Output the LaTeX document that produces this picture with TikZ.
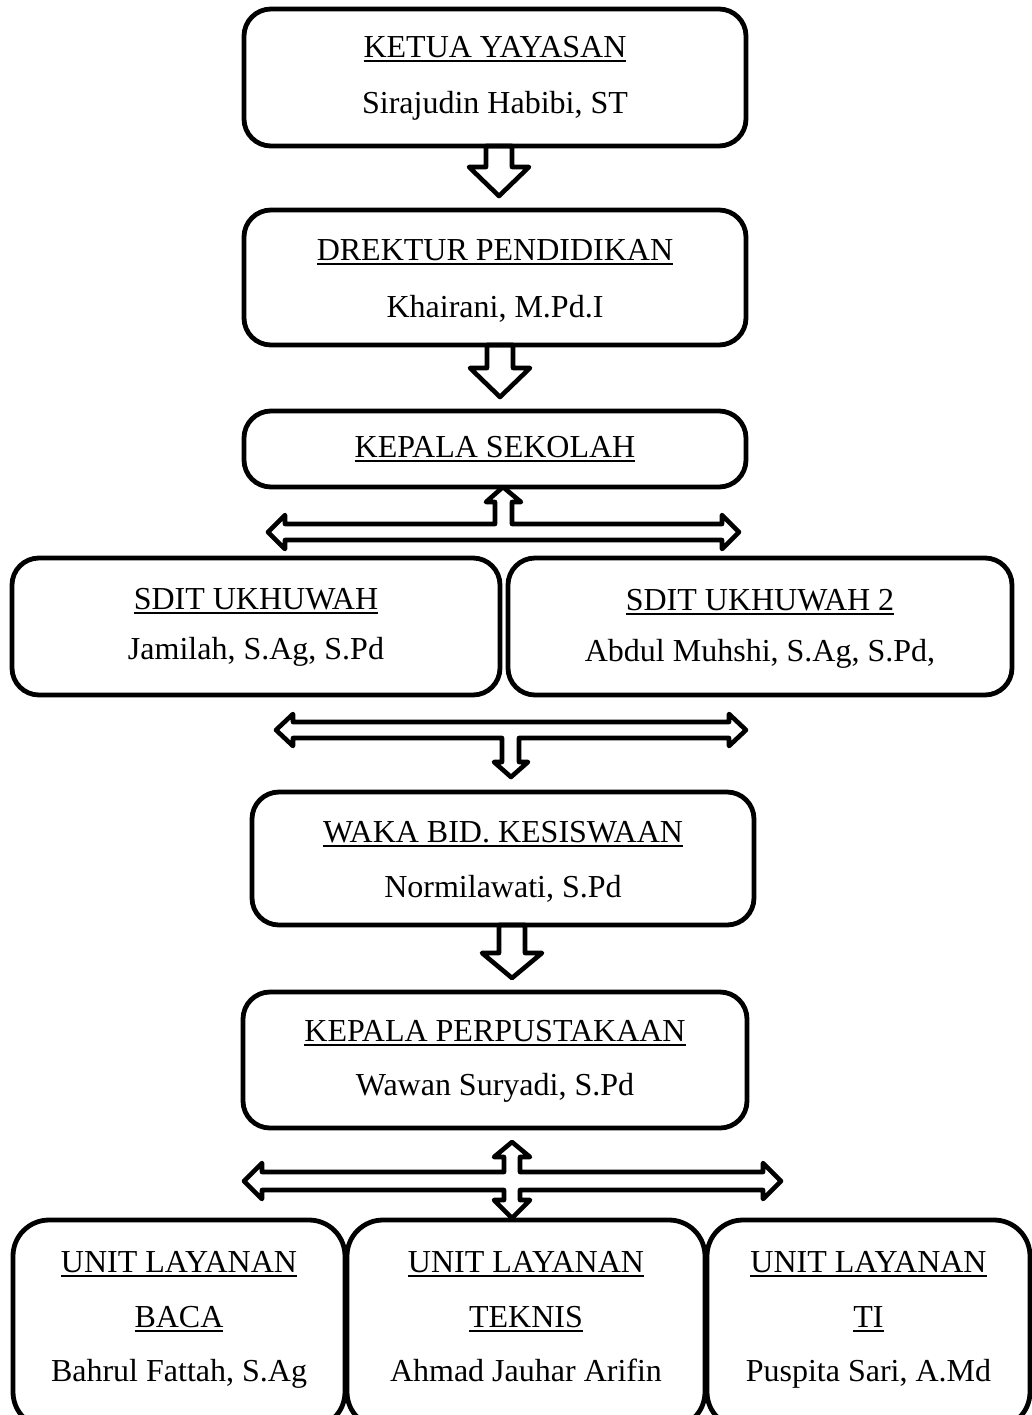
\documentclass[tikz,border=0pt]{standalone}
\usepackage{fontspec}
\setmainfont{Liberation Serif}
\begin{document}
\begin{tikzpicture}[x=0.5pt,y=-0.5pt,
  every node/.style={font=\fontsize{16}{19}\selectfont, inner sep=0pt, outer sep=0pt},
  orgbox/.style={inner sep=0pt, outer sep=0pt},
  unitbox/.style={inner sep=0pt, outer sep=0pt},
  boxline/.style={line width=2.4pt, rounded corners=13.5pt},
  unitline/.style={line width=2.4pt, rounded corners=18pt},
  blockarrow/.style={draw, fill=white, line width=2.3pt, line join=round},
  txt/.style={anchor=base},
  ulstyle/.style={line width=0.9pt}]
\useasboundingbox (0,0) rectangle (1032,1415);
\clip (0,0) rectangle (1032,1415);
\newcommand\titlenode[3]{\node[txt] (#1) at (#2) {#3};
  \draw[ulstyle] ([yshift=-1.9pt]#1.base west) -- ([yshift=-1.9pt]#1.base east);}

% box frames (named nodes, outlines drawn after the arrows)
\node[orgbox, minimum width=251pt, minimum height=68.5pt] (k1) at (495,77.5) {};
\node[orgbox, minimum width=251pt, minimum height=67.5pt] (k2) at (495,277.5) {};
\node[orgbox, minimum width=251pt, minimum height=38pt] (k3) at (495,449) {};
\node[orgbox, minimum width=244pt, minimum height=68.5pt] (s1) at (256,626.5) {};
\node[orgbox, minimum width=252pt, minimum height=68.5pt] (s2) at (760,626.5) {};
\node[orgbox, minimum width=251pt, minimum height=66.5pt] (w) at (503,858.5) {};
\node[orgbox, minimum width=252pt, minimum height=68pt] (p) at (495,1060) {};
\node[unitbox, minimum width=166pt, minimum height=104pt] (u1) at (179,1324) {};
\node[unitbox, minimum width=179pt, minimum height=104pt] (u2) at (526,1324) {};
\node[unitbox, minimum width=161.5pt, minimum height=104pt] (u3) at (868.5,1324) {};

% block arrows
\draw[blockarrow] ([xshift=2pt]k1.south) ++(-13,0) -- ++(0,21) -- ++(-17,0)
  -- ++(30,29) -- ++(30,-29) -- ++(-17,0) -- ++(0,-21) -- cycle;
\draw[blockarrow] ([xshift=2.5pt]k2.south) ++(-13,0) -- ++(0,23) -- ++(-17,0)
  -- ++(30,29) -- ++(30,-29) -- ++(-17,0) -- ++(0,-23) -- cycle;
\draw[blockarrow] ([xshift=4.5pt]w.south) ++(-13,0) -- ++(0,28) -- ++(-17,0)
  -- ++(30,25) -- ++(30,-25) -- ++(-17,0) -- ++(0,-28) -- cycle;

% T arrow under KEPALA SEKOLAH
\draw[blockarrow] ([xshift=4pt]k3.south) -- ++(18,15) -- ++(-9,0) -- ++(0,22)
  -- ++(210,0) -- ++(0,-9) -- ++(17,17) -- ++(-17,17) -- ++(0,-9)
  -- ++(-437,0) -- ++(0,9) -- ++(-17,-17) -- ++(17,-17) -- ++(0,9)
  -- ++(210,0) -- ++(0,-22) -- ++(-9,0) -- cycle;

% T arrow above WAKA
\draw[blockarrow] ([xshift=4pt,yshift=7.5pt]w.north) -- ++(17,-15) -- ++(-9,0) -- ++(0,-24)
  -- ++(210,0) -- ++(0,8) -- ++(17,-16) -- ++(-17,-16) -- ++(0,8)
  -- ++(-436,0) -- ++(0,-8) -- ++(-17,16) -- ++(17,16) -- ++(0,-8)
  -- ++(209,0) -- ++(0,24) -- ++(-8,0) -- cycle;

% cross arrow under KEPALA PERPUSTAKAAN
\draw[blockarrow] ([xshift=8.5pt,yshift=-7pt]p.south) -- ++(18,15) -- ++(-10,0) -- ++(0,15)
  -- ++(243,0) -- ++(0,-9) -- ++(18,18) -- ++(-18,18) -- ++(0,-9)
  -- ++(-243,0) -- ++(0,10) -- ++(10,0) -- ++(-18,18) -- ++(-18,-18) -- ++(10,0)
  -- ++(0,-10) -- ++(-242,0) -- ++(0,9) -- ++(-18,-18) -- ++(18,-18) -- ++(0,9)
  -- ++(242,0) -- ++(0,-15) -- ++(-10,0) -- cycle;

% box outlines on top
\foreach \b in {k1,k2,k3,s1,s2,w,p}{
  \draw[boxline] (\b.north west) rectangle (\b.south east);}
\foreach \b in {u1,u2,u3}{
  \draw[unitline] (\b.north west) rectangle (\b.south east);}

% texts
\titlenode{k1t}{495,57}{KETUA YAYASAN}
\node[txt] (k1n) at (495,113) {Sirajudin Habibi, ST};
\titlenode{k2t}{495,260}{DREKTUR PENDIDIKAN}
\node[txt] (k2n) at (495,317) {Khairani, M.Pd.I};
\titlenode{k3t}{495,457}{KEPALA SEKOLAH}
\titlenode{s1t}{256,609}{SDIT UKHUWAH}
\node[txt] (s1n) at (256,659) {Jamilah, S.Ag, S.Pd};
\titlenode{s2t}{760,610}{SDIT UKHUWAH 2}
\node[txt] (s2n) at (760,661) {Abdul Muhshi, S.Ag, S.Pd,};
\titlenode{wt}{503,842}{WAKA BID. KESISWAAN}
\node[txt] (wn) at (503,897) {Normilawati, S.Pd};
\titlenode{pt}{495,1041}{KEPALA PERPUSTAKAAN}
\node[txt] (pn) at (495,1095) {Wawan Suryadi, S.Pd};
\titlenode{u1a}{179,1272}{UNIT LAYANAN}
\titlenode{u1b}{179,1327}{BACA}
\node[txt] (u1n) at (179,1381) {Bahrul Fattah, S.Ag};
\titlenode{u2a}{526,1272}{UNIT LAYANAN}
\titlenode{u2b}{526,1327}{TEKNIS}
\node[txt] (u2n) at (526,1381) {Ahmad Jauhar Arifin};
\titlenode{u3a}{868.5,1272}{UNIT LAYANAN}
\titlenode{u3b}{868.5,1327}{TI}
\node[txt] (u3n) at (868.5,1381) {Puspita Sari, A.Md};
\end{tikzpicture}
\end{document}
